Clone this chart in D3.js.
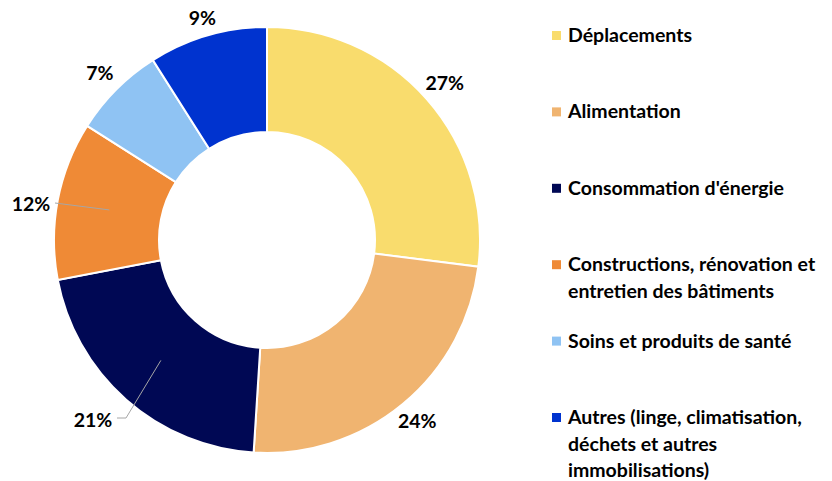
<!DOCTYPE html>
<html>
<head>
<meta charset="utf-8">
<script src="https://cdn.jsdelivr.net/npm/d3@7"></script>
<style>
  body { margin: 0; background: #fff; }
  text { font-family: Lato, "Open Sans", sans-serif; font-weight: bold; fill: #000; }
</style>
</head>
<body>
<svg id="chart" width="832" height="481"></svg>
<script>
// data
const categories = ["Déplacements", "Alimentation", "Consommation d'énergie",
  "Constructions, rénovation et entretien des bâtiments",
  "Soins et produits de santé",
  "Autres (linge, climatisation, déchets et autres immobilisations)"];
const legendLines = [
  ["Déplacements"],
  ["Alimentation"],
  ["Consommation d'énergie"],
  ["Constructions, rénovation et", "entretien des bâtiments"],
  ["Soins et produits de santé"],
  ["Autres (linge, climatisation,", "déchets et autres", "immobilisations)"]
];
const values = [27, 24, 21, 12, 7, 9];
const valueLabels = ["27%", "24%", "21%", "12%", "7%", "9%"];
const colors = ["#f9dc6d", "#f0b470", "#000854", "#ef8a36", "#8fc3f3", "#0033cf"];
const leader = [false, false, true, true, false, false];

const svg = d3.select("#chart");
const cx = 267, cy = 240, rOut = 213, rIn = 108;
const g = svg.append("g").attr("transform", `translate(${cx},${cy})`);

const pie = d3.pie().sort(null).value(d => d);
const arcs = pie(values);
const arc = d3.arc().innerRadius(rIn).outerRadius(rOut);

g.selectAll("path.slice")
  .data(arcs)
  .enter()
  .append("path")
  .attr("class", "slice")
  .attr("d", arc)
  .style("fill", (d, i) => colors[i])
  .style("stroke", "#fff")
  .style("stroke-width", 2);

// labels
const polar = (a, r) => [Math.sin(a) * r, -Math.cos(a) * r];
arcs.forEach((d, i) => {
  const mid = (d.startAngle + d.endAngle) / 2;
  let [x, y] = polar(mid, 228 + 12 * Math.abs(Math.sin(mid)));
  if (leader[i]) {
    const c = arc.centroid(d);
    if (i === 2) {
      x = -174; y = 180;
      g.append("path")
        .attr("d", `M${c[0]},${c[1]}L${x + 33},${y - 2}L${x + 24},${y - 2}`)
        .style("fill", "none").style("stroke", "#a6a6a6").style("stroke-width", 1);
    } else {
      x = -236; y = -36;
      g.append("path")
        .attr("d", `M${c[0]},${c[1]}L${x + 24},${y - 1}`)
        .style("fill", "none").style("stroke", "#a6a6a6").style("stroke-width", 1);
    }
  }
  g.append("text")
    .attr("x", x)
    .attr("y", y)
    .attr("dy", "0.35em")
    .attr("text-anchor", "middle")
    .style("font-size", "19.5px")
    .text(valueLabels[i]);
});

// legend
const ly = d3.scalePoint().domain(categories).range([42, 424]);
const legend = svg.append("g");
categories.forEach((c, i) => {
  const y0 = ly(c);
  legend.append("rect")
    .attr("x", 552).attr("y", y0 - 11)
    .attr("width", 9).attr("height", 9)
    .style("fill", colors[i]);
  const t = legend.append("text")
    .attr("x", 568).attr("y", y0)
    .style("font-size", "19.5px");
  legendLines[i].forEach((line, j) => {
    t.append("tspan").attr("x", 568).attr("y", y0 + j * 26.5).text(line);
  });
});
</script>
</body>
</html>
